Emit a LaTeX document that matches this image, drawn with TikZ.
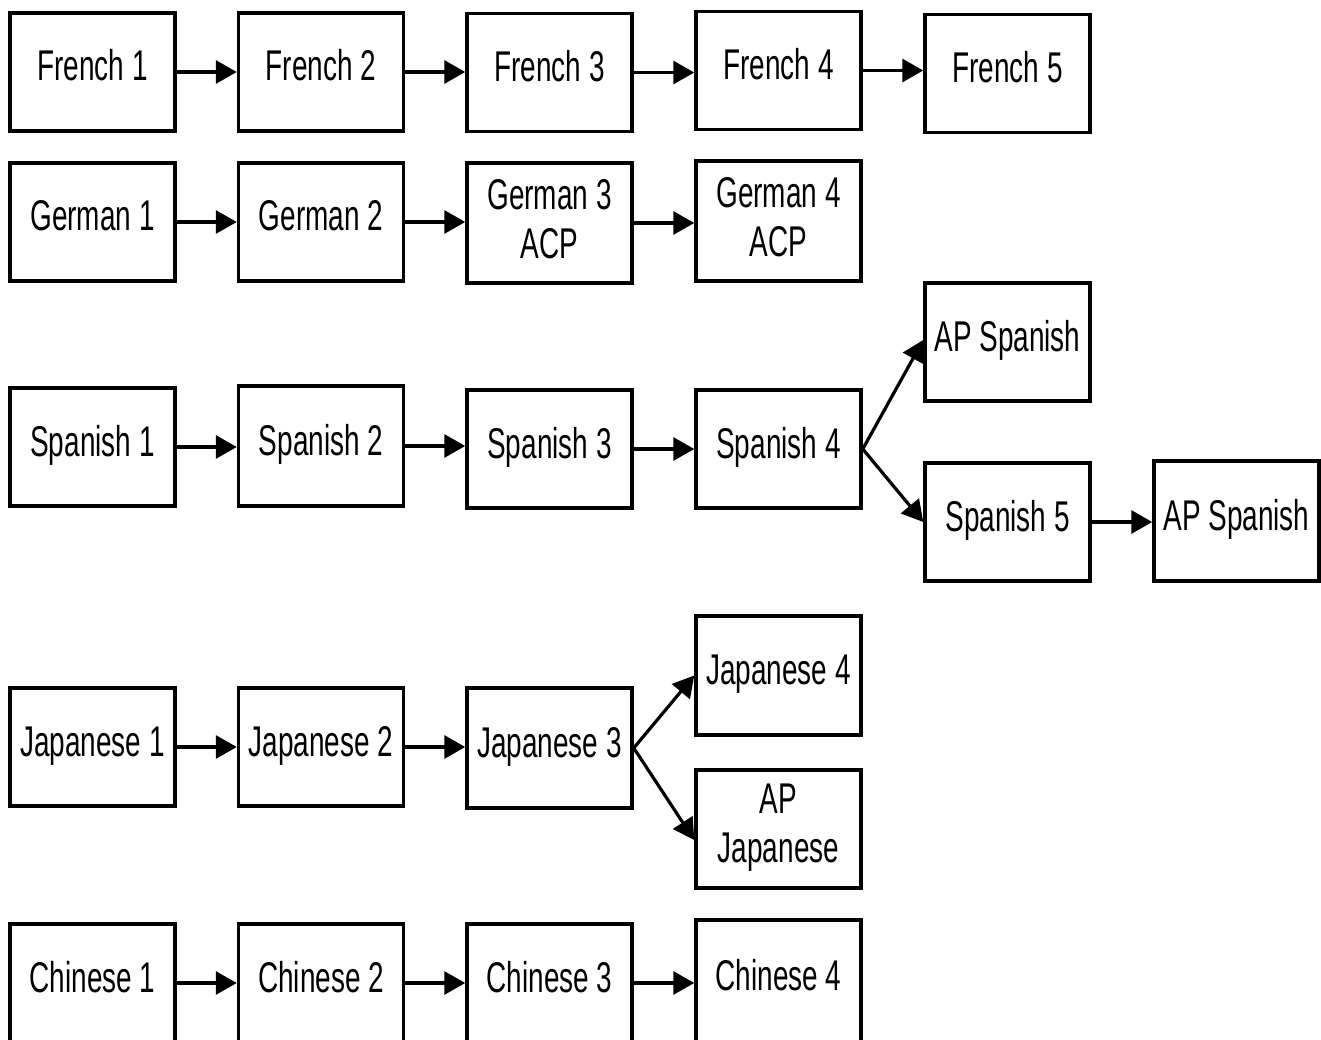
\documentclass[tikz,border=0pt]{standalone}
\usepackage{fontspec}
\setmainfont{Liberation Sans}[FakeStretch=0.65]
\usetikzlibrary{arrows.meta}
\newcommand\dpstrut[1]{\rule[-#1]{0pt}{#1}}
\tikzset{
  boxbase/.style={draw=black, line width=3.5pt, fill=white, minimum width=165pt, minimum height=118pt,
    inner sep=0pt, align=center, font=\fontsize{43}{49}\selectfont},
  box/.style={boxbase, text height=24pt, text depth=6pt},
  twoline/.style={boxbase},
  conn/.style={line width=3.2pt, -{Triangle[length=21pt,width=23pt]}}
}
\begin{document}
\begin{tikzpicture}[x=1pt,y=-1pt]
\clip (0,0) rectangle (1321,1040);
\fill[white] (0,0) rectangle (1321,1040);
% French
\node[box] (f1) at (92.5,72) {French 1};
\node[box] (f2) at (321,72) {French 2};
\node[box] (f3) at (549.5,72.5) {French 3};
\node[box] (f4) at (778.5,70.5) {French 4};
\node[box] (f5) at (1007.5,73.5) {French 5};
% German
\node[box] (g1) at (92.5,222) {German 1};
\node[box] (g2) at (321,222) {German 2};
\node[twoline,minimum height=120pt] (g3) at (549.5,223) {German 3\\ACP\dpstrut{9pt}};
\node[twoline,minimum height=120pt] (g4) at (778.5,221) {German 4\\ACP\dpstrut{9pt}};
% Spanish
\node[box] (s1) at (92.5,447) {Spanish 1};
\node[box,minimum height=120pt] (s2) at (321,446) {Spanish 2};
\node[box] (s3) at (549.5,449) {Spanish 3};
\node[box] (s4) at (778.5,449) {Spanish 4};
\node[box] (ap1) at (1007.5,342) {AP Spanish};
\node[box] (s5) at (1007.5,522) {Spanish 5};
\node[box,minimum height=120pt] (ap2) at (1236.5,521) {AP Spanish};
% Japanese
\node[box] (j1) at (92.5,747) {Japanese 1};
\node[box] (j2) at (321,747) {Japanese 2};
\node[box,minimum height=120pt] (j3) at (549.5,748) {Japanese 3};
\node[box,minimum height=119pt] (j4) at (778.5,675.5) {Japanese 4};
\node[twoline] (apj) at (778.5,829) {AP\\Japanese\dpstrut{11pt}};
% Chinese
\node[box] (c1) at (92.5,983) {Chinese 1};
\node[box] (c2) at (321,983) {Chinese 2};
\node[box] (c3) at (549.5,983) {Chinese 3};
\node[box,minimum height=122pt] (c4) at (778.5,981) {Chinese 4};
% connectors
\draw[conn] (f1.east) -- (f1.east -| f2.west);
\draw[conn] (f2.east) -- (f2.east -| f3.west);
\draw[conn] (f3.east) -- (f3.east -| f4.west);
\draw[conn] (f4.east) -- (f4.east -| f5.west);
\draw[conn] (g1.east) -- (g1.east -| g2.west);
\draw[conn] (g2.east) -- (g2.east -| g3.west);
\draw[conn] (g3.east) -- (g3.east -| g4.west);
\draw[conn] (s1.east) -- (s1.east -| s2.west);
\draw[conn] (s2.east) -- (s2.east -| s3.west);
\draw[conn] (s3.east) -- (s3.east -| s4.west);
\draw[conn] (s4.east) -- ([yshift=2pt]ap1.west);
\draw[conn] (s4.east) -- (s5.west);
\draw[conn] (s5.east) -- (s5.east -| ap2.west);
\draw[conn] (j1.east) -- (j1.east -| j2.west);
\draw[conn] (j2.east) -- (j2.east -| j3.west);
\draw[conn] (j3.east) -- (j4.west);
\draw[conn] (j3.east) -- ([yshift=-11pt]apj.west);
\draw[conn] (c1.east) -- (c1.east -| c2.west);
\draw[conn] (c2.east) -- (c2.east -| c3.west);
\draw[conn] (c3.east) -- (c3.east -| c4.west);
\end{tikzpicture}
\end{document}
